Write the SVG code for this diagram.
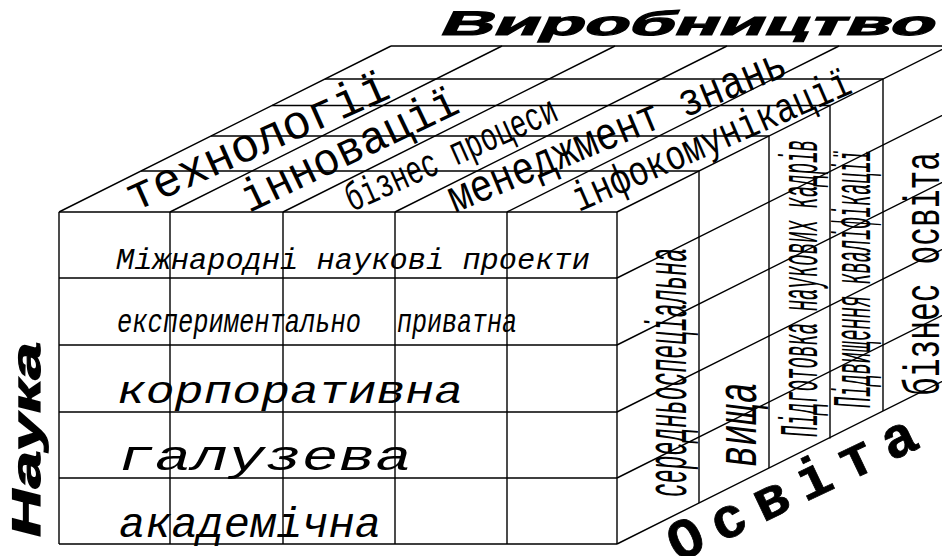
<svg xmlns="http://www.w3.org/2000/svg" width="942" height="556" viewBox="0 0 942 556">
<style>
.ln{stroke:#000;stroke-width:1.4;fill:none}
.mono{font-family:"Liberation Mono","Courier New",monospace;fill:#000}
.it{font-style:italic}
.hd{font-family:"Liberation Sans",Arial,sans-serif;font-weight:bold;fill:#000;stroke:#000;stroke-width:1.2}
</style>
<rect width="942" height="556" fill="#fff"/>
<g id="connectors" class="ln">
<path d="M59 212V544M170 212V544M283 212V544M395 212V544M507 212V544M617 212V544"/>
<path d="M59 212H617M59 278H617M59 345H617M59 412H617M59 478H617M59 544H617"/>
<path d="M141 171H699M211 136H769M272 105.5H830M325 79H883M391 46H949"/>
<path d="M59 212L391 46M170 212L502 46M283 212L615 46M395 212L727 46M507 212L839 46M617 212L949 46"/>
<path d="M699 171V503M769 136V468M830 105.5V438.5M883 79V411"/>
<path d="M617 278L949 112M617 345L949 179M617 412L949 246M617 478L949 312M617 544L949 378"/>
</g>
<g id="title-vyrobnytstvo"><text class="hd" transform="translate(438,35) skewX(-26)" font-size="34" textLength="494" lengthAdjust="spacingAndGlyphs">Виробництво</text></g>
<g id="title-nauka"><text class="hd" transform="translate(40,540) rotate(-90) skewX(-14)" font-size="40" textLength="195" lengthAdjust="spacingAndGlyphs">Наука</text></g>
<g id="title-osvita"><text class="mono" font-weight="bold" stroke="#000" stroke-width="0.8" transform="translate(678,563) rotate(-25.5)" font-size="57" textLength="270" lengthAdjust="spacing">Освіта</text></g>
<g id="top-labels" class="mono">
<text transform="translate(134,212) rotate(-24)" font-size="48" textLength="283" lengthAdjust="spacingAndGlyphs">технології</text>
<text transform="translate(249,213) rotate(-25.5)" font-size="46" textLength="236" lengthAdjust="spacingAndGlyphs">інновації</text>
<text transform="translate(352,212) rotate(-24)" font-size="40" textLength="228" lengthAdjust="spacingAndGlyphs">бізнес процеси</text>
<text transform="translate(455,213) rotate(-22.5)" font-size="46" textLength="362" lengthAdjust="spacingAndGlyphs">менеджмент знань</text>
<text transform="translate(579,212) rotate(-23.5)" font-size="42" textLength="300" lengthAdjust="spacingAndGlyphs">інфокомунікації</text>
</g>
<g id="front-labels" class="mono it">
<text x="116" y="269" font-size="30" textLength="474" lengthAdjust="spacingAndGlyphs">Міжнародні наукові проекти</text>
<text x="117" y="332" font-size="33" textLength="244" lengthAdjust="spacingAndGlyphs">експериментально</text>
<text x="397" y="332" font-size="33" textLength="120" lengthAdjust="spacingAndGlyphs">приватна</text>
<text x="117" y="403" font-size="39" textLength="346" lengthAdjust="spacingAndGlyphs">корпоративна</text>
<text x="118" y="470" font-size="43" textLength="294" lengthAdjust="spacingAndGlyphs">галузева</text>
<text x="119" y="537" font-size="43" textLength="262" lengthAdjust="spacingAndGlyphs">академічна</text>
</g>
<g id="side-labels" class="mono">
<text class="it" transform="translate(686,497) rotate(-90)" font-size="58" textLength="249" lengthAdjust="spacingAndGlyphs">середньоспеціальна</text>
<text class="it" transform="translate(756,467) rotate(-90)" font-size="58" textLength="85" lengthAdjust="spacingAndGlyphs">вища</text>
<text class="it" transform="translate(817,437) rotate(-90)" font-size="54" textLength="297" lengthAdjust="spacingAndGlyphs">Підготовка наукових кадрів</text>
<text class="it" transform="translate(870,408) rotate(-90)" font-size="54" textLength="258" lengthAdjust="spacingAndGlyphs">Підвищення кваліфікації</text>
<text transform="translate(939,396) rotate(-90)" font-size="50" textLength="244" lengthAdjust="spacingAndGlyphs">бізнес освіта</text>
</g>
</svg>
